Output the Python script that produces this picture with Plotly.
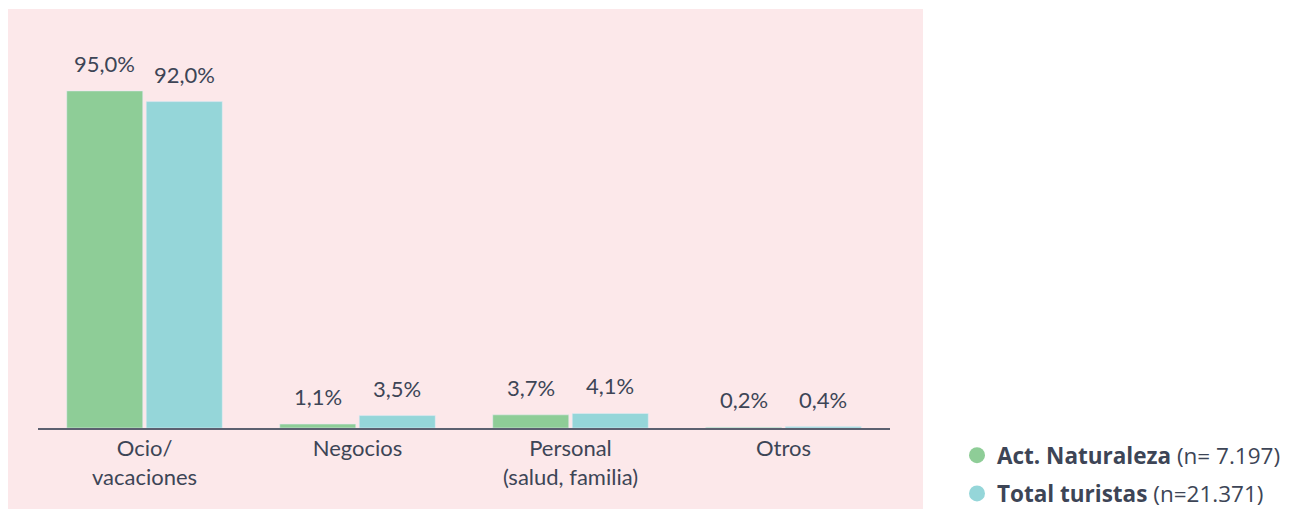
import plotly.graph_objects as go

categories = ["Ocio/<br>vacaciones", "Negocios", "Personal<br>(salud, familia)", "Otros"]
act_naturaleza = [95.0, 1.1, 3.7, 0.2]
total_turistas = [92.0, 3.5, 4.1, 0.4]
series_names = ["<b>Act. Naturaleza</b> (n= 7.197)", "<b>Total turistas</b> (n=21.371)"]
colors = ["#8ECD97", "#95D6D9"]

W, H = 1299, 540
L, R, T = 30, 417, 12
base_y = 420  # pixel row of the x axis
B = H - base_y
plot_w = W - L - R
plot_h = H - T - B
y_max = 115
text_color = "#3D4556"

fig = go.Figure()
for vals, col in zip([act_naturaleza, total_turistas], colors):
    fig.add_trace(go.Bar(x=list(range(len(categories))), y=vals, marker_color=col,
                         showlegend=False, hoverinfo="skip"))
for i, (name, col) in enumerate(zip(series_names, colors)):
    fig.add_trace(go.Scatter(x=[None], y=[None], mode="markers", name=name,
                             marker=dict(color=col, size=26, symbol="circle"),
                             legendgroup=f"g{i}"))

# value labels
cat_w = plot_w / len(categories)
bargap, groupgap = 0.2535, 0.044
group_w = cat_w * (1 - bargap)
bar_w = group_w / 2
for s, vals in enumerate([act_naturaleza, total_turistas]):
    shift = (s - 0.5) * bar_w
    for i, v in enumerate(vals):
        fig.add_annotation(x=i, y=v, xref="x", yref="y", text=f"{v:.1f}%".replace(".", ","),
                           showarrow=False, xshift=shift, yshift=12, yanchor="bottom",
                           font=dict(family="Lato", size=22, color=text_color))

def px_to_paper_x(px):
    return (px - L) / plot_w
def px_to_paper_y(py):
    return (base_y - py) / plot_h

# pink background panel
fig.add_shape(type="rect", xref="paper", yref="paper", layer="below", line_width=0,
              fillcolor="#FCE8EA",
              x0=px_to_paper_x(-4), x1=px_to_paper_x(915),
              y0=px_to_paper_y(H + 5), y1=px_to_paper_y(1))

fig.update_layout(
    width=W, height=H,
    margin=dict(l=L, r=R, t=T, b=B),
    barmode="group", bargap=bargap, bargroupgap=groupgap,
    paper_bgcolor="white", plot_bgcolor="rgba(0,0,0,0)",
    font=dict(family="Lato", size=22, color=text_color),
    legend=dict(x=px_to_paper_x(949), y=px_to_paper_y(426), xanchor="left", yanchor="top",
                font=dict(family="Open Sans", size=22.5, color=text_color),
                tracegroupgap=6, itemsizing="trace", bgcolor="rgba(0,0,0,0)"),
    xaxis=dict(tickmode="array", tickvals=list(range(len(categories))), ticktext=categories,
               range=[-0.5, len(categories) - 0.5], showline=True, linecolor="#5C6070",
               linewidth=2, ticks="", showgrid=False, zeroline=False,
               tickfont=dict(family="Lato", size=22, color=text_color)),
    yaxis=dict(range=[0, y_max], visible=False, showgrid=False, zeroline=False),
)

fig.write_html("out.html")
